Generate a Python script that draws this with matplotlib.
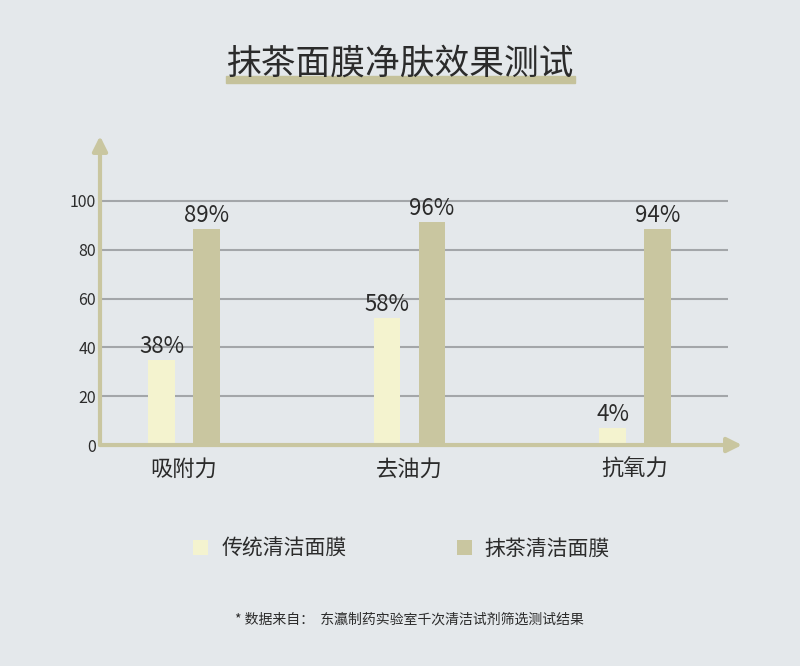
import matplotlib
matplotlib.use('Agg')

import matplotlib.pyplot as plt
from matplotlib.patches import Rectangle
import numpy as np

plt.rcParams['font.family'] = ['Noto Sans CJK SC', 'DejaVu Sans']

# data
categories = ['吸附力', '去油力', '抗氧力']
series_names = ['传统清洁面膜', '抹茶清洁面膜']
traditional = [35, 52, 7]          # drawn bar heights
matcha = [88.5, 91.5, 88.5]
traditional_labels = ['38%', '58%', '4%']
matcha_labels = ['89%', '96%', '94%']
yticks = [0, 20, 40, 60, 80, 100]

title = '抹茶面膜净肤效果测试'
footnote = '* 数据来自：  东瀛制药实验室千次清洁试剂筛选测试结果'

bg = '#e4e8eb'
light = '#f4f3cf'
dark = '#c9c6a0'
axis_col = '#c9c6a0'
grid_col = '#a3a6a9'
text_col = '#2b2b2b'

fig = plt.figure(figsize=(8, 6.66), dpi=100, facecolor=bg)
ax = fig.add_axes([0.125, 0.3318, 0.8025, 0.464])
ax.set_facecolor(bg)

x = np.arange(len(categories))
offset = 0.099
width = 0.118

ax.set_xlim(-0.3725, 2.4745)
ax.set_ylim(0, 126.6)

# gridlines
ax.hlines(yticks[1:], -0.3725, 2.412, color=grid_col, lw=1.5, zorder=1)

b1 = ax.bar(x - offset, traditional, width, color=light, zorder=2, label=series_names[0])
b2 = ax.bar(x + offset, matcha, width, color=dark, zorder=2, label=series_names[1])

for bars, labels in ((b1, traditional_labels), (b2, matcha_labels)):
    for rect, lab in zip(bars, labels):
        ax.annotate(lab, (rect.get_x() + rect.get_width() / 2, rect.get_height()),
                    xytext=(0, 1.5), textcoords='offset points',
                    ha='center', va='bottom', fontsize=16, color=text_col, zorder=4)

for s in ax.spines.values():
    s.set_visible(False)

# axis arrows
ax.annotate('', xy=(0, 1), xytext=(0, 0), xycoords='axes fraction',
            arrowprops=dict(arrowstyle='-|>', color=axis_col, lw=3,
                            mutation_scale=22, shrinkA=0, shrinkB=0), zorder=3)
ax.annotate('', xy=(1, 0), xytext=(0, 0), xycoords='axes fraction',
            arrowprops=dict(arrowstyle='-|>', color=axis_col, lw=3,
                            mutation_scale=22, shrinkA=0, shrinkB=0), zorder=3)

ax.set_yticks(yticks)
ax.set_yticklabels([str(t) for t in yticks])
ax.set_xticks(x)
ax.set_xticklabels(categories)
ax.tick_params(axis='y', length=0, pad=3, labelsize=11.5, labelcolor=text_col)
ax.tick_params(axis='x', length=0, pad=9, labelsize=16, labelcolor=text_col)

# title with highlight underline
fig.patches.append(Rectangle((226 / 800, 1 - 83 / 666), 349 / 800, 7 / 666,
                             transform=fig.transFigure, color='#c5c29b', zorder=0))
fig.text(0.5, 1 - 64 / 666, title, ha='center', va='center', fontsize=25,
         color=text_col, zorder=2)

fig.legend(handles=[b1, b2], labels=series_names, loc='center',
           bbox_to_anchor=(0.502, 1 - 549 / 666), ncol=2, frameon=False,
           fontsize=15, handlelength=0.72, handleheight=0.72,
           handletextpad=0.62, columnspacing=5.3, labelcolor=text_col)

fig.text(409.5 / 800, 1 - 620 / 666, footnote, ha='center', va='center', fontsize=10,
         color=text_col)

plt.savefig('out.png', dpi=100, facecolor=bg)
